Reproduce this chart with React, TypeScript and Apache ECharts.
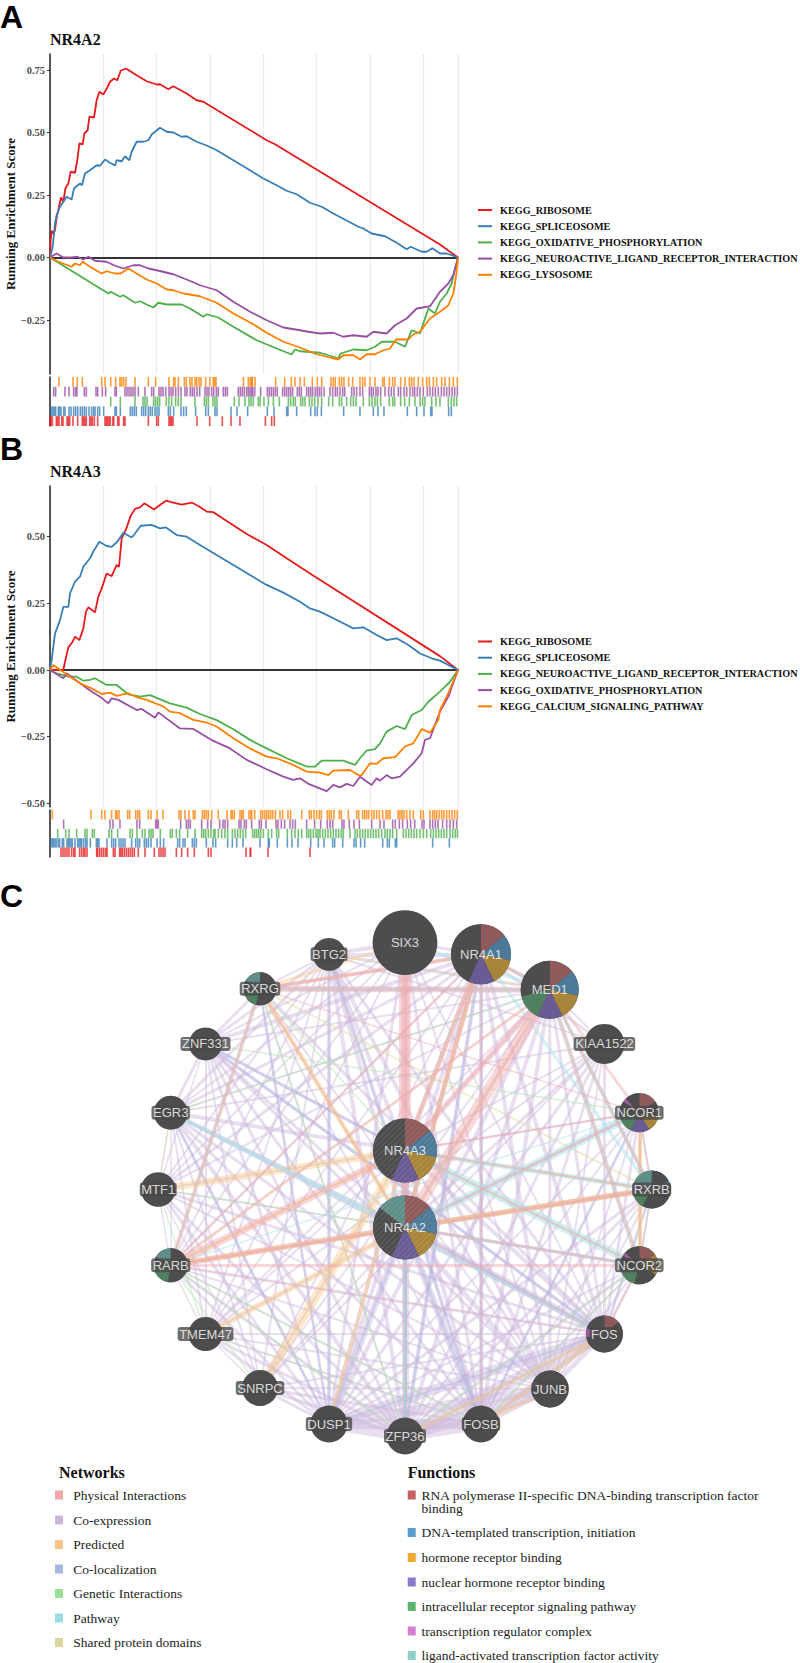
import React, { useEffect, useRef } from "react";
import * as echarts from "echarts";

const SERIF = '"Liberation Serif"';
const SANS = '"Liberation Sans"';
const RED = "#e41a1c", BLUE = "#377eb8", GREEN = "#4daf4a", PURPLE = "#984ea3", ORANGE = "#ff7f00";

// ---------- Panel A: running enrichment score [rank, score]
const aRibosome = [[0,0],[12,.069],[31,.107],[62,.096],[94,.109],[125,.163],[162,.196],[206,.24],[250,.223],[288,.276],[344,.296],[388,.343],[469,.339],[512,.389],[550,.456],[612,.453],[644,.496],[706,.509],[738,.563],[825,.56],[875,.629],[925,.663],[1000,.652],[1075,.68],[1125,.703],[1200,.716],[1262,.709],[1325,.747],[1425,.756],[1594,.733],[1812,.705],[2000,.692],[2062,.693],[2219,.673],[2312,.685],[2562,.656],[2750,.629],[2875,.623],[4062,.469],[4219,.453],[7312,.052],[7650,0]];
const aSpliceosome = [[0,0],[50,.043],[94,.136],[125,.169],[188,.203],[250,.223],[312,.243],[406,.232],[450,.276],[562,.296],[600,.289],[656,.336],[750,.349],[875,.369],[938,.367],[1031,.392],[1125,.379],[1219,.368],[1250,.389],[1344,.385],[1406,.405],[1488,.389],[1531,.423],[1625,.463],[1750,.463],[1844,.469],[1906,.492],[2062,.519],[2188,.503],[2312,.5],[2469,.483],[2562,.485],[2750,.463],[2938,.448],[3125,.429],[3438,.389],[3750,.349],[4000,.316],[4250,.289],[4438,.267],[4625,.253],[4875,.219],[5094,.203],[5312,.176],[5500,.155],[5781,.123],[5875,.116],[6031,.096],[6281,.085],[6500,.059],[6688,.033],[6762,.043],[6969,.023],[7062,.023],[7169,.037],[7312,.016],[7438,.016],[7650,0]];
const aOxidative = [[0,0],[1094,-.144],[1138,-.137],[1312,-.157],[1375,-.151],[1594,-.181],[1688,-.175],[1812,-.188],[1938,-.2],[2031,-.181],[2188,-.188],[2469,-.188],[2625,-.204],[2875,-.237],[2938,-.227],[3156,-.24],[3438,-.277],[3875,-.331],[4250,-.364],[4531,-.388],[4594,-.368],[4688,-.375],[5062,-.381],[5312,-.397],[5406,-.404],[5450,-.384],[5688,-.368],[5938,-.371],[6094,-.357],[6219,-.337],[6469,-.337],[6656,-.357],[6781,-.291],[6938,-.304],[7094,-.204],[7219,-.224],[7312,-.177],[7438,-.144],[7531,-.104],[7600,-.037],[7650,0]];
const aNeuroactive = [[0,0],[62,.009],[125,.016],[250,0],[406,0],[512,.003],[625,-.008],[719,.003],[844,-.013],[1062,-.017],[1219,-.033],[1375,-.044],[1562,-.031],[1688,-.031],[1844,-.044],[2000,-.051],[2312,-.067],[2562,-.088],[2812,-.111],[3125,-.131],[3438,-.177],[3750,-.217],[4062,-.251],[4375,-.28],[4688,-.291],[4844,-.297],[5062,-.304],[5312,-.301],[5500,-.317],[5688,-.311],[5938,-.317],[6062,-.297],[6312,-.304],[6469,-.271],[6688,-.244],[6875,-.204],[7125,-.195],[7312,-.137],[7469,-.104],[7562,-.071],[7625,-.024],[7650,0]];
const aLysosome = [[0,0],[156,-.017],[406,-.037],[469,-.024],[562,-.031],[612,-.017],[750,-.037],[969,-.064],[1062,-.055],[1219,-.064],[1325,-.064],[1469,-.044],[1625,-.064],[1812,-.088],[2000,-.104],[2188,-.128],[2312,-.131],[2500,-.144],[2812,-.155],[3125,-.181],[3438,-.224],[3812,-.267],[4062,-.301],[4375,-.337],[4688,-.36],[5000,-.387],[5250,-.4],[5406,-.408],[5500,-.391],[5688,-.391],[5812,-.408],[5938,-.387],[6094,-.387],[6250,-.371],[6375,-.364],[6488,-.328],[6719,-.328],[6812,-.307],[6938,-.297],[7125,-.244],[7312,-.217],[7469,-.191],[7562,-.144],[7612,-.077],[7650,0]];

// ---------- Panel A: gene-set hit positions (rank)
const aRugOrange = [169,431,512,606,969,1031,1138,1231,1312,1344,1381,1425,1594,1844,1981,2231,2319,2344,2406,2519,2556,2625,2662,2719,2750,2794,2831,2919,3000,3062,3088,3112,3625,3719,3756,3794,3781,3844,4231,4400,4525,4594,4688,4769,4919,5012,5094,5269,5312,5350,5425,5469,5512,5600,5675,5812,5862,5906,6000,6094,6238,6269,6362,6425,6469,6575,6656,6738,6781,6825,6906,6988,7062,7112,7188,7250,7344,7406,7488,7562,7638];
const aRugPurple = [69,106,281,356,444,481,506,644,681,862,894,981,1044,1219,1244,1406,1444,1481,1519,1556,1594,1656,1781,1906,1944,2044,2081,2119,2169,2231,2269,2306,2356,2406,2456,2531,2569,2631,2669,2706,2756,2806,2906,2944,2981,3031,3069,3119,3156,3250,3288,3325,3531,3569,3606,3644,3688,3719,3750,3781,3800,3838,3950,4075,4112,4150,4188,4225,4262,4362,4400,4438,4475,4512,4550,4638,4675,4712,4812,4850,4888,4925,4975,5012,5050,5088,5138,5250,5300,5350,5388,5438,5488,5525,5656,5700,5750,5812,5862,5988,6025,6062,6112,6150,6200,6281,6350,6400,6450,6531,6575,6638,6688,6750,6800,6838,6888,6938,7000,7075,7125,7175,7225,7281,7338,7388,7438,7488,7538,7588,7638];
const aRugGreen = [1138,1319,1594,1744,1781,1819,1944,1981,2019,2056,2181,2231,2281,2356,2406,2456,2719,2894,2931,2969,3056,3094,3131,3456,3544,3656,3731,3769,3812,3906,3938,4012,4094,4188,4300,4469,4512,4562,4600,4700,4738,4781,4862,4912,4962,5025,5094,5225,5300,5425,5469,5562,5638,5688,5738,5875,5988,6038,6094,6138,6200,6362,6425,6462,6575,6650,6738,6844,6938,6988,7031,7156,7238,7312,7469,7525,7575,7625];
const aRugBlue = [31,56,81,106,156,181,206,256,281,356,394,444,481,519,569,606,644,681,731,781,819,844,894,931,1006,1219,1244,1319,1506,1544,1581,1619,1719,1756,1794,1844,1881,1919,1969,2006,2044,2219,2256,2319,2456,2506,2556,2731,2919,2969,3094,3131,3394,3506,3706,4075,4200,4438,4462,4625,4888,4969,5012,5088,5506,5812,6062,6150,6262,6700,6875,7012,7138,7162,7475,7525];
const aRugRed = [0,19,44,119,144,169,219,244,319,344,369,431,519,606,631,656,681,744,769,794,831,894,1031,1056,1081,1106,1131,1181,1194,1269,1294,1381,1406,1844,2000,2031,2231,2256,2281,2306,2756,2994,3231,3394,3562,4038,4156,4206];

// ---------- Panel B: running enrichment score [rank, score]
const bRibosome = [[0,0],[250,0],[281,.031],[344,.085],[425,.106],[469,.125],[550,.112],[625,.156],[675,.219],[719,.235],[844,.216],[906,.275],[969,.306],[1062,.362],[1156,.352],[1250,.394],[1294,.387],[1344,.494],[1425,.527],[1512,.578],[1594,.604],[1688,.61],[1769,.625],[1950,.602],[2062,.619],[2175,.635],[2312,.628],[2469,.62],[2656,.628],[2781,.615],[2938,.594],[3062,.592],[3688,.51],[4062,.469],[4438,.419],[4875,.362],[7312,.052],[7650,0]];
const bSpliceosome = [[0,0],[31,.037],[94,.137],[188,.187],[250,.237],[344,.237],[375,.287],[469,.331],[562,.35],[625,.387],[750,.419],[812,.444],[925,.481],[1062,.465],[1156,.462],[1262,.481],[1375,.515],[1531,.497],[1594,.512],[1700,.541],[1906,.544],[2062,.531],[2169,.535],[2375,.506],[2562,.5],[2812,.469],[3125,.431],[3438,.394],[3750,.356],[4062,.319],[4375,.29],[4688,.256],[4875,.231],[5062,.219],[5312,.194],[5688,.156],[5875,.16],[6125,.131],[6312,.112],[6500,.119],[6719,.094],[6938,.062],[7156,.044],[7312,.035],[7650,0]];
const bNeuroactive = [[0,0],[125,-.013],[250,-.019],[344,-.025],[500,-.025],[625,-.04],[750,-.037],[844,-.031],[1062,-.056],[1250,-.056],[1469,-.091],[1688,-.1],[1875,-.094],[2250,-.125],[2562,-.141],[2812,-.165],[3125,-.188],[3438,-.222],[3750,-.262],[4062,-.294],[4438,-.331],[4812,-.362],[4969,-.362],[5094,-.34],[5500,-.34],[5719,-.356],[5812,-.331],[5938,-.302],[6094,-.297],[6188,-.275],[6312,-.231],[6500,-.21],[6656,-.222],[6781,-.169],[6969,-.15],[7094,-.119],[7312,-.081],[7500,-.044],[7650,0]];
const bOxidative = [[0,0],[250,-.031],[312,-.012],[750,-.077],[938,-.1],[1094,-.125],[1156,-.106],[1281,-.112],[1625,-.15],[1719,-.146],[1969,-.179],[2031,-.159],[2438,-.219],[2688,-.221],[3062,-.266],[3375,-.294],[3688,-.337],[4062,-.372],[4375,-.4],[4562,-.412],[4688,-.406],[4844,-.427],[5188,-.454],[5312,-.431],[5438,-.44],[5562,-.427],[5688,-.435],[5812,-.4],[6031,-.431],[6125,-.406],[6188,-.415],[6312,-.394],[6406,-.406],[6562,-.4],[6812,-.35],[6969,-.312],[7031,-.262],[7125,-.256],[7312,-.156],[7469,-.1],[7650,0]];
const bCalcium = [[0,0],[62,.019],[156,.006],[375,-.025],[562,-.05],[781,-.069],[969,-.09],[1125,-.085],[1250,-.097],[1469,-.087],[1625,-.102],[1812,-.112],[2125,-.137],[2250,-.156],[2438,-.162],[2688,-.187],[2938,-.197],[3125,-.212],[3438,-.256],[3750,-.294],[4062,-.325],[4250,-.331],[4562,-.356],[4812,-.381],[5062,-.385],[5219,-.394],[5312,-.377],[5625,-.375],[5781,-.394],[5844,-.394],[6000,-.35],[6125,-.352],[6250,-.331],[6469,-.327],[6656,-.287],[6812,-.275],[6969,-.222],[7125,-.235],[7281,-.187],[7312,-.15],[7469,-.087],[7650,0]];

// ---------- Panel B: gene-set hit positions (rank)
const bRugOrange = [44,769,969,1031,1156,1231,1256,1294,1456,1494,1606,1644,1681,1844,1894,2006,2119,2419,2456,2531,2606,2688,2719,2856,2894,2931,2969,3031,3156,3319,3394,3419,3456,3562,3594,3625,3731,3781,3769,3838,3950,3988,4025,4062,4100,4138,4175,4225,4312,4362,4462,4512,4719,4862,4900,4950,5000,5050,5088,5200,5238,5275,5325,5425,5462,5594,5750,5788,5862,5900,5938,5975,6031,6075,6125,6175,6238,6300,6338,6375,6525,6562,6600,6638,6688,6750,6812,6950,7000,7125,7175,7212,7250,7300,7344,7388,7438,7488,7538,7588,7638];
const bRugPurple = [256,1125,1181,1312,1631,1681,1981,2006,2031,2450,2556,2594,2631,2844,2956,3019,3181,3244,3281,3331,3544,3581,3644,3681,3781,3925,3962,4050,4238,4275,4338,4400,4500,4550,4600,4812,4962,5075,5200,5250,5300,5475,5512,5612,5700,5800,6031,6188,6262,6425,6475,6550,6612,6700,6762,6838,6975,7012,7125,7175,7225,7275,7362,7438,7500,7562,7625];
const bRugGreen = [144,294,356,500,656,694,794,831,1106,1156,1269,1500,1544,1631,1731,1781,1856,1894,1931,2069,2256,2294,2369,2431,2581,2719,2844,2881,2919,2969,3019,3069,3094,3156,3219,3281,3331,3419,3469,3519,3569,3619,3669,3800,3838,3875,3912,3950,4000,4094,4156,4250,4288,4450,4531,4594,4656,4719,4812,4850,4888,4938,4988,5025,5062,5112,5162,5212,5262,5312,5362,5412,5462,5500,5625,5719,5762,5812,5862,5912,5962,6012,6062,6112,6162,6219,6281,6325,6375,6425,6500,6625,6675,6725,6775,6825,6875,6938,7000,7062,7138,7188,7238,7288,7338,7388,7438,7500,7550,7600,7640];
const bRugBlue = [19,44,69,94,119,156,181,231,256,319,344,369,394,419,469,519,544,569,594,631,669,694,756,869,894,919,1069,1156,1194,1231,1294,1331,1369,1406,1531,1606,1644,1681,1769,1806,1844,1894,2006,2069,2131,2394,2431,2494,2531,2669,2706,2744,2931,3056,3106,3331,3419,3500,3619,3938,4094,4112,4262,4450,4538,4650,4888,5031,5138,5300,5338,5488,5700,5738,5825,5900,6238,6325,6362,6475,6500,7175,7488];
const bRugRed = [206,244,281,319,356,406,444,469,556,594,631,656,694,875,894,931,969,1006,1044,1069,1188,1219,1306,1331,1356,1394,1431,1469,1506,1544,1581,1656,1781,1956,2044,2081,2119,2156,2369,2469,2581,2706,2969,3019,3675,3756,3762,4088,4875];

const aTicks = [-0.25, 0, 0.25, 0.5, 0.75];
const bTicks = [-0.5, -0.25, 0, 0.25, 0.5];

// ---------- Panel C: network
const nodes: [string, number, number, number][] = [
  ["SIX3",405,942.6,32.4],["BTG2",329,954.3,16.4],["NR4A1",481,954.3,30],["MED1",549.7,989.8,29],
  ["RXRG",260,988.8,16.5],["ZNF331",205.5,1043.9,16.5],["KIAA1522",604.4,1043.9,20],["EGR3",170.7,1112.7,17],
  ["NCOR1",639.3,1112.7,19.5],["MTF1",158.2,1189.5,17.3],["RXRB",651.7,1189.5,19],["RARB",170.7,1265.3,17],
  ["NCOR2",639.3,1265.3,19],["TMEM47",205.5,1334,17],["FOS",604.4,1334,18.5],["SNRPC",260,1388,18],
  ["JUNB",550,1389,18.5],["DUSP1",329,1424,18.5],["FOSB",481,1424,18.5],["ZFP36",405,1436,18.5],
  ["NR4A3",405,1150.6,32],["NR4A2",405,1227.4,32],
];
type E = [string, string, number];
const coexpression: E[] = [
  ["FOS","ZFP36",12],["FOS","DUSP1",10],["FOS","FOSB",6],["FOS","JUNB",5],["JUNB","ZFP36",12],["JUNB","DUSP1",10],["JUNB","FOSB",6],["FOSB","ZFP36",11],["FOSB","DUSP1",10],["DUSP1","ZFP36",11],
  ["NR4A2","FOS",7],["NR4A2","JUNB",5],["NR4A2","FOSB",7],["NR4A2","ZFP36",7],["NR4A2","DUSP1",7],["NR4A3","FOS",4],["NR4A3","JUNB",3],["NR4A3","FOSB",4],["NR4A3","ZFP36",4],["NR4A3","DUSP1",4],
  ["NR4A1","FOS",4],["NR4A1","JUNB",4],["NR4A1","FOSB",4],["NR4A1","ZFP36",4],["NR4A1","DUSP1",4],
  ["BTG2","FOS",3],["BTG2","JUNB",4],["BTG2","FOSB",4],["BTG2","ZFP36",4],["BTG2","DUSP1",4],["BTG2","NR4A1",4],["BTG2","NR4A2",4],["BTG2","NR4A3",4],["BTG2","EGR3",3],["BTG2","ZNF331",3],["BTG2","SIX3",4],["BTG2","RXRG",2],["BTG2","MED1",3],["BTG2","TMEM47",2],
  ["EGR3","FOS",4],["EGR3","JUNB",3],["EGR3","FOSB",3],["EGR3","ZFP36",4],["EGR3","DUSP1",3],["EGR3","NR4A1",3],["EGR3","NR4A2",4],["EGR3","NR4A3",4],["EGR3","ZNF331",3],["EGR3","RARB",1.5],["EGR3","MED1",2],
  ["ZNF331","FOS",3],["ZNF331","JUNB",3],["ZNF331","FOSB",3],["ZNF331","ZFP36",3],["ZNF331","DUSP1",3],["ZNF331","NR4A1",4],["ZNF331","NR4A2",3],["ZNF331","NR4A3",3],["ZNF331","RXRG",3],["ZNF331","MTF1",1.5],["ZNF331","TMEM47",2],
  ["MTF1","FOS",3],["MTF1","ZFP36",3],["MTF1","DUSP1",3],["MTF1","JUNB",2],["MTF1","NR4A2",2],["MTF1","BTG2",2],
  ["TMEM47","ZFP36",3],["TMEM47","FOSB",2],["TMEM47","FOS",2],["TMEM47","NR4A2",2],["TMEM47","DUSP1",3],
  ["SNRPC","ZFP36",3],["SNRPC","FOSB",3],["SNRPC","FOS",2],["SNRPC","DUSP1",3],["SNRPC","EGR3",2],["SNRPC","ZNF331",2],["SNRPC","NR4A2",2],
  ["RXRG","NR4A1",3],["RXRG","ZFP36",2],["MED1","FOS",3],["MED1","JUNB",3],["MED1","ZFP36",4],["MED1","DUSP1",4],["MED1","FOSB",4],["MED1","SNRPC",2],
  ["KIAA1522","FOS",3],["KIAA1522","ZFP36",3],["KIAA1522","DUSP1",3],["KIAA1522","NR4A2",3],["KIAA1522","FOSB",3],["KIAA1522","JUNB",2],
  ["NCOR1","FOS",3],["NCOR1","FOSB",3],["NCOR1","DUSP1",2],["NCOR2","FOS",3],["NCOR2","ZFP36",3],["NCOR2","JUNB",2],["RXRB","FOS",3],["RXRB","ZFP36",3],["RXRB","DUSP1",3],
  ["SIX3","DUSP1",3],["SIX3","ZFP36",3],["SIX3","FOSB",3],["SIX3","FOS",2],["RARB","ZFP36",3],["RARB","DUSP1",3],["RARB","FOS",3],["RARB","NR4A1",2],["RARB","FOSB",2],
  ["NR4A1","NR4A2",4],["NR4A1","NR4A3",4],["NR4A2","NR4A3",4],["NR4A1","MED1",3],
  ["RXRG","FOS",3],["RXRG","JUNB",2],["RXRG","FOSB",2],["RXRG","DUSP1",3],["RXRB","JUNB",2],["RXRB","FOSB",2],["NCOR1","ZFP36",2],["NCOR1","JUNB",2],["NCOR2","DUSP1",2],["NCOR2","FOSB",2],
  ["SIX3","JUNB",2],["SIX3","NR4A1",3],["SIX3","EGR3",2],["SIX3","ZNF331",2],["SIX3","RARB",2],["SIX3","TMEM47",2],["SIX3","MTF1",2],["MED1","MTF1",2],["MED1","ZNF331",2],["MED1","TMEM47",2],["MED1","RXRG",3],
  ["KIAA1522","SNRPC",2],["KIAA1522","EGR3",2],["KIAA1522","BTG2",2],["KIAA1522","NR4A1",3],["KIAA1522","MED1",2],["KIAA1522","TMEM47",2],["NR4A1","TMEM47",2],["NR4A1","SNRPC",2],["NR4A1","MTF1",3],
  ["NR4A3","SNRPC",2],["NR4A3","TMEM47",2],["NR4A3","MTF1",2],["NR4A2","RARB",2],["NR4A2","RXRB",2],["NR4A2","NCOR2",3],["NR4A2","NCOR1",3],["NR4A3","NCOR1",2],["NR4A3","KIAA1522",2],["NR4A3","MED1",3],["NR4A2","MED1",3],
  ["EGR3","TMEM47",2],["EGR3","MTF1",1.5],["RARB","BTG2",2],["RARB","JUNB",2],["RARB","TMEM47",1.5],["RARB","MTF1",1.5],["SNRPC","JUNB",2],["SNRPC","BTG2",2],["SNRPC","MTF1",1.5],["TMEM47","JUNB",2],["TMEM47","SNRPC",1.5],
];
const colocalization: E[] = [
  ["ZFP36","NR4A1",2.5],["FOSB","NR4A1",2.5],["DUSP1","EGR3",2],["ZNF331","FOS",3],["NR4A2","FOSB",3],["NR4A2","ZFP36",3],["NR4A2","DUSP1",2.5],["NR4A2","FOS",3],["FOS","ZFP36",2],["DUSP1","FOS",2],["BTG2","DUSP1",2],["ZFP36","NR4A3",2],["FOSB","BTG2",2],["ZNF331","NR4A3",3],["RXRG","DUSP1",1.5],["FOSB","FOS",2],["NCOR1","FOSB",1.5],["RXRB","FOS",1.5],
];
const genetic: E[] = [
  ["ZFP36","NCOR2",1.5],["FOSB","NCOR2",1.5],["RARB","SNRPC",1.5],["MTF1","TMEM47",1.5],["ZFP36","RARB",1.5],["RXRG","ZFP36",1.5],["ZNF331","NCOR1",1.5],["RARB","FOSB",1.5],["EGR3","MED1",1.5],["RXRG","NR4A3",1.5],["NR4A2","ZFP36",1.5],["MTF1","NR4A2",1.5],["TMEM47","FOSB",1],
];
const shared: E[] = [
  ["NCOR1","NCOR2",4],["RXRB","NR4A2",6],["RXRG","RXRB",2],["NR4A1","NR4A2",4],["NR4A1","NR4A3",3],["NR4A2","NR4A3",4],["RXRG","RARB",2],["RARB","RXRB",2.5],["EGR3","MTF1",1.2],["MED1","RXRB",2],["RARB","NR4A2",3],["RARB","NR4A3",2],["RXRG","NR4A2",2],["BTG2","MED1",1.5],["MED1","RARB",1.5],
];
const predicted: E[] = [
  ["MTF1","NR4A3",7],["SNRPC","NR4A3",9],["TMEM47","NR4A2",6],["DUSP1","NR4A3",4],["RXRG","NR4A2",5],["RARB","NR4A2",5],["RARB","NR4A3",3],["RXRB","NR4A2",5],["RXRB","NR4A3",2.5],["SIX3","RXRG",3],["FOS","ZFP36",4],["FOS","FOSB",5],["JUNB","FOSB",3],["NR4A1","NR4A2",3],["MED1","NR4A2",3],["NCOR1","NCOR2",4],["NR4A1","RXRG",2.5],["NR4A3","NCOR2",2.5],["NR4A3","RXRB",2],
];
const pathway: E[] = [
  ["SIX3","MED1",4],["RXRG","MED1",4],["NCOR1","NR4A2",8],["NCOR2","NR4A3",8],["NCOR2","NR4A2",3],["RXRB","NR4A3",5],["MED1","NCOR2",4],["MED1","RXRB",4],["NR4A1","RXRB",3],["EGR3","FOS",3],["RXRG","RARB",2],["NR4A1","MED1",3],["NCOR1","RXRB",2],["RXRB","NCOR2",2],["RARB","NCOR1",1.5],["EGR3","NR4A2",3],
];
const physical: E[] = [
  ["SIX3","NR4A3",12],["SIX3","NR4A2",8],["MED1","NR4A3",6],["MED1","NR4A2",12],["NR4A1","NR4A3",5],["NR4A1","NR4A2",5],["NR4A1","MED1",4],["RXRG","MED1",6],["RXRG","NR4A1",4],["RARB","NR4A3",8],["RARB","NR4A2",6],["RARB","RXRG",4],["RXRB","NR4A2",5],["RXRB","NR4A3",2],["NCOR2","NR4A2",3],["RARB","NCOR2",3],["RARB","MED1",3],["RARB","NR4A1",2],["NCOR1","MED1",3],["NCOR2","MED1",4],["RXRB","MED1",3],["NCOR1","RXRB",2],["NCOR2","RXRB",2],["NCOR1","NCOR2",2],["NCOR2","NR4A3",2],["RARB","RXRB",2],["RXRG","NCOR1",1.5],["RXRG","NR4A2",2],["FOS","NCOR2",1.5],["FOS","NR4A2",1.5],["NCOR1","NR4A2",3],["NCOR1","NR4A3",2],["FOS","RARB",1],["FOSB","NR4A1",1.5],
];

const networkNames = ["Physical Interactions","Co-expression","Predicted","Co-localization","Genetic Interactions","Pathway","Shared protein domains"];
const networkSwatches = ["#eea6ab","#cbb5d9","#f8c48a","#a5b7e2","#97e095","#9cdce4","#dcd69a"];
const functionNames = ["RNA polymerase II-specific DNA-binding transcription factor\nbinding","DNA-templated transcription, initiation","hormone receptor binding","nuclear hormone receptor binding","intracellular receptor signaling pathway","transcription regulator complex","ligand-activated transcription factor activity"];
const functionSwatches = ["#c56261","#5b9bd0","#eeaa35","#8a78c8","#5cb36c","#d27fd0","#8cd0c6"];

const S: Record<string,string> = { r:"#8f5a5a", b:"#4d7a99", g:"#a8853a", p:"#6b5b95", n:"#4f8060", k:"#9a5c9a", t:"#5f8f88", d:"#4d4d4d" };
const pies: Record<string, [string, number][]> = {
  NR4A2: [["r",51],["b",51],["g",52],["p",51],["d",103],["t",52]],
  NR4A3: [["r",51],["b",51],["g",52],["p",51],["d",155]],
  NR4A1: [["r",51],["b",51],["g",52],["p",51],["d",155]],
  MED1: [["r",51],["b",51],["g",52],["p",51],["n",52],["d",103]],
  NCOR1: [["r",55],["d",45],["g",50],["p",55],["n",55],["d",45],["k",12],["d",43]],
  NCOR2: [["r",55],["g",65],["d",75],["n",55],["d",50],["k",12],["d",48]],
  RXRB: [["d",62],["b",12],["d",135],["n",60],["k",25],["t",66]],
  RXRG: [["d",195],["n",70],["d",35],["t",60]],
  RARB: [["d",190],["n",80],["d",30],["t",60]],
  FOS: [["r",50],["d",210],["k",28],["d",72]],
  JUNB: [["d",275],["k",20],["d",65]],
};
const queryGenes = ["NR4A2","NR4A3"];
const plainLabelGenes = ["SIX3","NR4A1","MED1","NR4A2","NR4A3"];

function gseaOption(title: string, letter: string, letterTop: number, series: { name: string; color: string; data: number[][] }[], rug: { color: string; data: number[] }[], gridTop: number, gridH: number, rugTop: number, rugH: number, yMin: number, yMax: number, ticks: number[], legendTop: number, titleTop: number) {
  const rows = rug.map((_, i) => String(i));
  return {
    animation: false,
    title: { text: title, left: 50, top: titleTop, padding: 0, textStyle: { fontFamily: SERIF, fontSize: 16, fontWeight: "bold", color: "#111" } },
    graphic: [{ type: "text", left: 0, top: letterTop, style: { text: letter, fontFamily: SANS, fontWeight: "bold", fontSize: 32, fill: "#000" } }],
    legend: {
      data: series.map((s) => s.name), orient: "vertical", left: 478, top: legendTop, icon: "rect", itemWidth: 14, itemHeight: 2, itemGap: 4.2, padding: 0,
      textStyle: { fontFamily: SERIF, fontSize: 10.2, fontWeight: "bold", color: "#111", lineHeight: 12, padding: [0, 0, 0, 3] },
    },
    grid: [
      { left: 50, top: gridTop, width: 408, height: gridH, outerBoundsMode: "none" },
      { left: 50, top: rugTop, width: 408, height: rugH, outerBoundsMode: "none" },
    ],
    xAxis: [
      { type: "value", gridIndex: 0, min: 0, max: 7650, interval: 1000, axisLabel: { show: false }, axisTick: { show: false },
        axisLine: { show: true, onZero: true, lineStyle: { color: "#333", width: 2 } }, splitLine: { show: true, lineStyle: { color: "#ececec", width: 1.4 } } },
      { type: "value", gridIndex: 1, min: 0, max: 7650, show: false, splitLine: { show: false } },
    ],
    yAxis: [
      { type: "value", gridIndex: 0, min: yMin, max: yMax, name: "Running Enrichment Score", nameLocation: "middle", nameRotate: 90, nameGap: 33, nameMoveOverlap: false,
        nameTextStyle: { fontFamily: SERIF, fontSize: 13, fontWeight: "bold", color: "#111" },
        axisLine: { show: true, onZero: false, lineStyle: { color: "#222", width: 1.5 } }, splitLine: { show: false },
        axisTick: { show: true, length: 3, customValues: ticks, lineStyle: { color: "#333" } },
        axisLabel: { show: true, customValues: ticks, margin: 5, fontFamily: SERIF, fontSize: 10.4, fontWeight: "bold", color: "#4d4d4d", showMinLabel: true, showMaxLabel: true,
          formatter: (v: number) => (v < 0 ? "\u2212" : "") + Math.abs(v).toFixed(2) } },
      { type: "category", gridIndex: 1, data: rows, inverse: true, axisLine: { show: true, onZero: false, lineStyle: { color: "#222", width: 1.5 } }, axisTick: { show: false }, axisLabel: { show: false }, splitLine: { show: false } },
    ],
    series: [
      ...rug.map((r, i) => ({ type: "scatter", name: "rug" + i, xAxisIndex: 1, yAxisIndex: 1, symbol: "rect", symbolSize: [1.6, rugH / rug.length],
        itemStyle: { color: r.color, opacity: 0.78 }, silent: true, data: r.data.map((x) => [x, rows[i]]) })),
      ...series.map((s) => ({ type: "line", name: s.name, xAxisIndex: 0, yAxisIndex: 0, showSymbol: false, symbol: "none", color: s.color, itemStyle: { color: s.color },
        lineStyle: { color: s.color, width: 1.8 }, data: s.data, silent: true })),
    ],
  };
}

function networkOption() {
  const layers: [E[], string, number][] = [
    [coexpression, "#cdb6dc", 0.45], [colocalization, "#a8b8e4", 0.4], [genetic, "#b4e8b0", 0.55], [shared, "#dfd79c", 0.45],
    [predicted, "#f8c98a", 0.45], [pathway, "#aee3ea", 0.55], [physical, "#f0a9ae", 0.45],
  ];
  const links: any[] = [];
  layers.forEach(([list, color, opacity]) => list.forEach(([source, target, width]) => links.push({ source, target, lineStyle: { color, width, opacity, curveness: 0 } })));
  const pieSeries = nodes.filter((n) => pies[n[0]]).map(([name, x, y, r]) => ({
    type: "pie", name, center: [x, y - 860], radius: [0, r], startAngle: 90, clockwise: true, silent: true, z: 3, label: { show: false }, labelLine: { show: false },
    data: pies[name].map(([k, value], i) => ({ name: name + i, value, itemStyle: { color: S[k], borderWidth: 0,
      ...(queryGenes.includes(name) ? { decal: { symbol: "rect", dashArrayX: [1, 0], dashArrayY: [1, 3], rotation: -Math.PI / 4, color: "rgba(255,255,255,0.1)" } } : {}) } })),
  }));
  const fnY = [1495, 1532.5, 1557.5, 1582, 1606.5, 1631, 1655.5];
  const netY = [1495, 1520, 1544.5, 1569, 1593.5, 1618, 1642.5];
  const g: any[] = [
    { type: "text", left: 0, top: 20, style: { text: "C", fontFamily: SANS, fontWeight: "bold", fontSize: 32, fill: "#000" } },
    { type: "text", x: 59, y: 1472 - 860, style: { text: "Networks", fontFamily: SERIF, fontWeight: "bold", fontSize: 16, fill: "#111", textVerticalAlign: "middle" } },
    { type: "text", x: 407.7, y: 1472 - 860, style: { text: "Functions", fontFamily: SERIF, fontWeight: "bold", fontSize: 16, fill: "#111", textVerticalAlign: "middle" } },
  ];
  networkNames.forEach((t, i) => {
    g.push({ type: "rect", shape: { x: 55, y: netY[i] - 4.5 - 860, width: 8, height: 9 }, style: { fill: networkSwatches[i] } });
    g.push({ type: "text", x: 73.3, y: netY[i] - 860, style: { text: t, fontFamily: SERIF, fontSize: 13.5, fill: "#222", textVerticalAlign: "middle" } });
  });
  functionNames.forEach((t, i) => {
    const lines = t.split("\n");
    g.push({ type: "rect", shape: { x: 407.7, y: fnY[i] - 4.5 - 860, width: 8, height: 9 }, style: { fill: functionSwatches[i] } });
    lines.forEach((l, j) => g.push({ type: "text", x: 421.5, y: fnY[i] + j * 13.5 - 860, style: { text: l, fontFamily: SERIF, fontSize: 13.5, fill: "#222", textVerticalAlign: "middle" } }));
  });
  return {
    animation: false,
    graphic: g,
    grid: { left: 0, top: 0, right: 0, bottom: 0, outerBoundsMode: "none" },
    xAxis: { type: "value", min: 0, max: 800, show: false },
    yAxis: { type: "value", min: 860, max: 1663, inverse: true, show: false },
    series: [
      { type: "graph", coordinateSystem: "cartesian2d", layout: "none", silent: true, z: 1, roam: false, symbol: "circle",
        data: nodes.map(([name, x, y, r]) => ({ name, value: [x, y], symbolSize: 2 * r, itemStyle: { color: "#4d4d4d" } })), links, label: { show: false }, emphasis: { disabled: true } },
      ...pieSeries,
      { type: "scatter", z: 5, silent: true, symbolSize: 1, itemStyle: { color: "rgba(0,0,0,0)" },
        data: nodes.map(([name, x, y]) => ({ name, value: [x, y],
          label: plainLabelGenes.includes(name) ? { backgroundColor: "rgba(77,77,77,0)" } : { backgroundColor: "#4a4a4a" } })),
        labelLayout: { hideOverlap: false },
        label: { show: true, position: "inside", formatter: "{b}", fontFamily: SANS, fontSize: 13, color: "#ffffff", padding: [1, 1.5, 0, 1.5], borderRadius: 3 } },
    ],
  };
}

function useChart(build: () => any) {
  const ref = useRef<HTMLDivElement>(null);
  useEffect(() => {
    const c = echarts.init(ref.current!, undefined, { renderer: "svg" });
    c.setOption(build());
    return () => c.dispose();
  }, []);
  return ref;
}

export default function App() {
  useEffect(() => { document.body.style.margin = "0"; }, []);
  const a = useChart(() => gseaOption("NR4A2", "A", 1, [
    { name: "KEGG_RIBOSOME", color: RED, data: aRibosome },
    { name: "KEGG_SPLICEOSOME", color: BLUE, data: aSpliceosome },
    { name: "KEGG_OXIDATIVE_PHOSPHORYLATION", color: GREEN, data: aOxidative },
    { name: "KEGG_NEUROACTIVE_LIGAND_RECEPTOR_INTERACTION", color: PURPLE, data: aNeuroactive },
    { name: "KEGG_LYSOSOME", color: ORANGE, data: aLysosome },
  ], [{ color: ORANGE, data: aRugOrange }, { color: PURPLE, data: aRugPurple }, { color: GREEN, data: aRugGreen }, { color: BLUE, data: aRugBlue }, { color: RED, data: aRugRed }],
    54, 320, 377, 49, (257.5 - 374) / 250, (257.5 - 54) / 250, aTicks, 204, 31));
  const b = useChart(() => gseaOption("NR4A3", "B", 3, [
    { name: "KEGG_RIBOSOME", color: RED, data: bRibosome },
    { name: "KEGG_SPLICEOSOME", color: BLUE, data: bSpliceosome },
    { name: "KEGG_NEUROACTIVE_LIGAND_RECEPTOR_INTERACTION", color: GREEN, data: bNeuroactive },
    { name: "KEGG_OXIDATIVE_PHOSPHORYLATION", color: PURPLE, data: bOxidative },
    { name: "KEGG_CALCIUM_SIGNALING_PATHWAY", color: ORANGE, data: bCalcium },
  ], [{ color: ORANGE, data: bRugOrange }, { color: PURPLE, data: bRugPurple }, { color: GREEN, data: bRugGreen }, { color: BLUE, data: bRugBlue }, { color: RED, data: bRugRed }],
    56, 321, 380, 47, (670 - 807) / 266.67, (670 - 486) / 266.67, bTicks, 205.5, 33));
  const c = useChart(networkOption);
  return (
    <div style={{ position: "relative", width: 800, height: 1663, background: "#fff", overflow: "hidden" }}>
      <div ref={a} style={{ position: "absolute", left: 0, top: 0, width: 800, height: 430 }} />
      <div ref={b} style={{ position: "absolute", left: 0, top: 430, width: 800, height: 430 }} />
      <div ref={c} style={{ position: "absolute", left: 0, top: 860, width: 800, height: 803 }} />
    </div>
  );
}
